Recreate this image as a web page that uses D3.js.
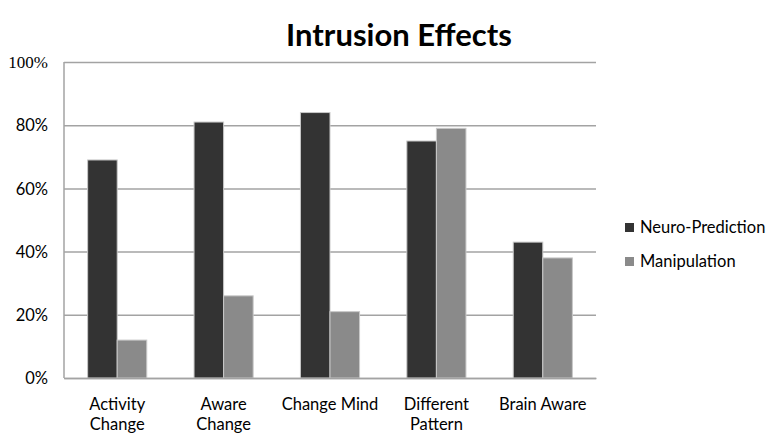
<!DOCTYPE html>
<html>
<head>
<meta charset="utf-8">
<script src="https://cdn.jsdelivr.net/npm/d3@7"></script>
<style>
	body { margin: 0; background: #fff; }
	svg { display: block; }
</style>
</head>
<body>
<div id="chart-box"></div>
<script>
// chart values
const categories = ["Activity Change", "Aware Change", "Change Mind", "Different Pattern", "Brain Aware"];
const categoryLines = [["Activity", "Change"], ["Aware", "Change"], ["Change Mind"], ["Different", "Pattern"], ["Brain Aware"]];
const seriesNames = ["Neuro-Prediction", "Manipulation"];
const neuroPrediction = [0.69, 0.81, 0.84, 0.75, 0.43];
const manipulation = [0.12, 0.26, 0.21, 0.79, 0.38];
const yTicks = [0, 0.2, 0.4, 0.6, 0.8, 1];
const seriesColors = ["#333333", "#8a8a8a"];

const width = 766, height = 435;
const padd = {left: 64, right: 170, top: 62, bottom: 57};
const font = "Lato, 'Open Sans', sans-serif";

const svg = d3.select("#chart-box")
	.append("svg")
	.attr("width", width)
	.attr("height", height);

//Title
svg.append("text")
	.attr("x", 399)
	.attr("y", 46)
	.attr("text-anchor", "middle")
	.style("font-family", font)
	.style("font-weight", "bold")
	.style("font-size", "31px")
	.attr("fill", "#000")
	.text("Intrusion Effects");

//scales
const xScale = d3.scaleBand()
	.domain(categories)
	.range([padd.left, width - padd.right])
	.padding(0);
const xSeries = d3.scaleBand()
	.domain(seriesNames)
	.range([0, xScale.bandwidth()])
	.paddingInner(0)
	.paddingOuter(0.8);
const yScale = d3.scaleLinear()
	.domain([0, 1])
	.range([height - padd.bottom, padd.top]);

//gridlines
const yAxis = d3.axisLeft(yScale)
	.tickValues(yTicks)
	.tickSize(-(width - padd.right - padd.left))
	.tickFormat(d3.format(".0%"));
const yG = svg.append("g")
	.attr("id", "y-axis")
	.attr("transform", `translate(${padd.left},0)`)
	.call(yAxis);
yG.select(".domain").remove();
yG.selectAll(".tick line")
	.attr("stroke", "#a3a3a3")
	.attr("stroke-width", 1.5);
yG.selectAll(".tick text")
	.attr("x", -16)
	.attr("dy", "0.35em")
	.attr("fill", "#000")
	.style("font-family", (d) => d === 1 ? "'Liberation Serif', serif" : font)
	.style("font-size", (d) => d === 1 ? "17px" : "16.5px");

//left axis line
svg.append("line")
	.attr("x1", padd.left)
	.attr("x2", padd.left)
	.attr("y1", yScale(0))
	.attr("y2", yScale(1))
	.attr("stroke", "#a3a3a3")
	.attr("stroke-width", 1.5);

//bars
const rows = categories.map((c, i) => ({cat: c, vals: [neuroPrediction[i], manipulation[i]]}));
const groups = svg.append("g")
	.selectAll("g")
	.data(rows)
	.enter()
	.append("g")
	.attr("transform", (d) => `translate(${xScale(d.cat)},0)`);
groups.selectAll("rect")
	.data((d) => d.vals.map((v, j) => ({name: seriesNames[j], value: v, idx: j})))
	.enter()
	.append("rect")
	.attr("x", (d) => xSeries(d.name))
	.attr("y", (d) => yScale(d.value))
	.attr("width", xSeries.bandwidth())
	.attr("height", (d) => yScale(0) - yScale(d.value))
	.attr("fill", (d) => seriesColors[d.idx])
	.attr("stroke", "#c8c8c8")
	.attr("stroke-width", 1);

//x axis
const xAxis = d3.axisBottom(xScale).tickSize(0).tickFormat("");
const xG = svg.append("g")
	.attr("id", "x-axis")
	.attr("transform", `translate(0,${yScale(0)})`)
	.call(xAxis);
xG.select(".domain")
	.attr("stroke", "#a3a3a3")
	.attr("stroke-width", 1.5);
xG.selectAll(".tick")
	.each(function(d, i) {
		const t = d3.select(this).append("text")
			.attr("text-anchor", "middle")
			.attr("fill", "#000")
			.style("font-family", font)
			.style("font-size", "16.5px");
		categoryLines[i].forEach((line, k) => {
			t.append("tspan")
				.attr("x", 0)
				.attr("y", 32 + k * 20)
				.text(line);
		});
	});

//legend
const legend = svg.append("g")
	.attr("id", "legend")
	.attr("transform", "translate(625,223)");
const items = legend.selectAll("g")
	.data(seriesNames)
	.enter()
	.append("g")
	.attr("transform", (d, i) => `translate(0,${i * 34})`);
items.append("rect")
	.attr("width", 9)
	.attr("height", 9)
	.attr("fill", (d, i) => seriesColors[i]);
items.append("text")
	.attr("x", 15)
	.attr("y", 10)
	.attr("fill", "#000")
	.style("font-family", font)
	.style("font-size", "16.5px")
	.text((d) => d);
</script>
</body>
</html>
